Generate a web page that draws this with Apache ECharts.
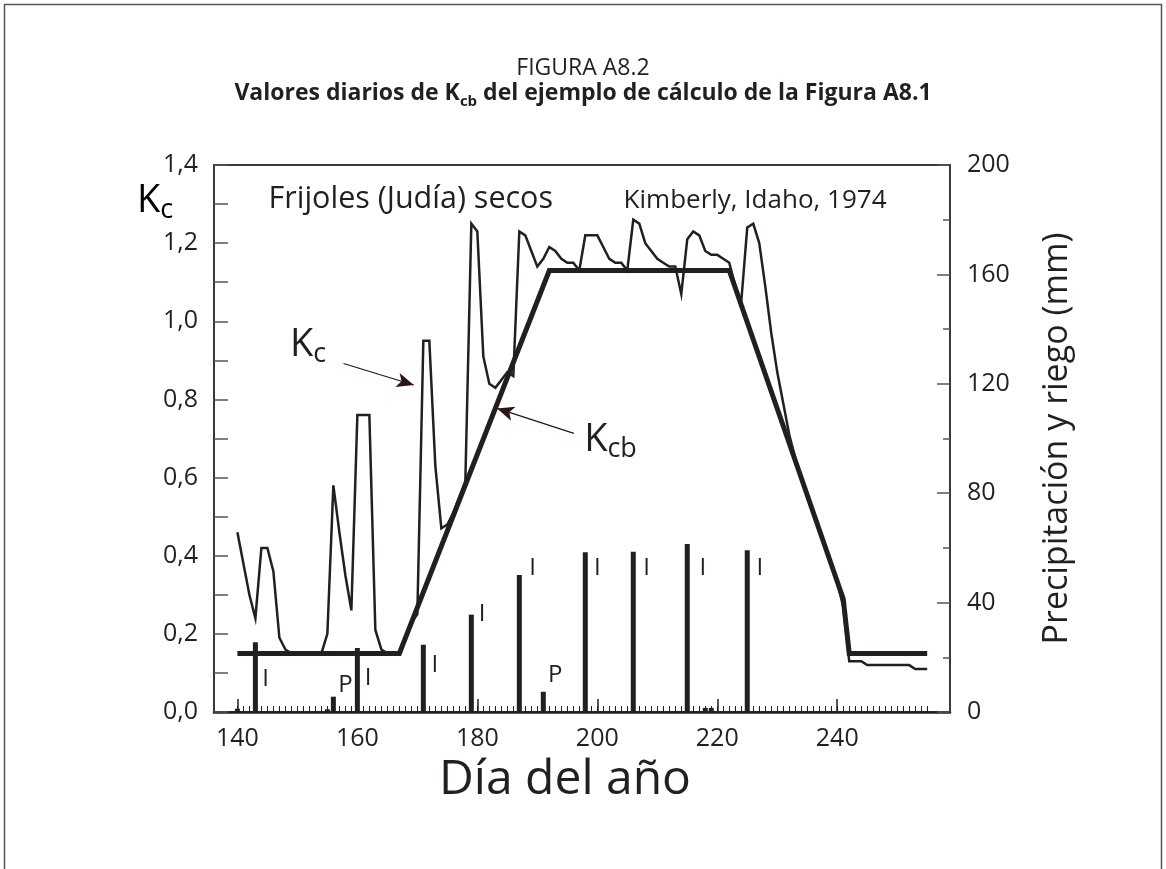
<!DOCTYPE html>
<html>
<head>
<meta charset="utf-8">
<script src="https://cdn.jsdelivr.net/npm/echarts@6/dist/echarts.min.js"></script>
<style>
  html, body { margin: 0; padding: 0; background: #ffffff; }
  #chart { width: 1166px; height: 869px; }
</style>
</head>
<body>
<div id="chart"></div>
<script>
const FONT = '"Open Sans", "Noto Sans", sans-serif';
const INK = '#231f20';
const AXIS = '#3a3a3a';

// Daily Kc, one value per day starting at firstDay
const firstDay = 140;
const kcDaily = [
  0.46, 0.38, 0.30, 0.24, 0.42, 0.42, 0.36, 0.19, 0.16, 0.15,   // 140-149
  0.15, 0.15, 0.15, 0.15, 0.15, 0.20, 0.58, 0.46, 0.35, 0.26,   // 150-159
  0.76, 0.76, 0.76, 0.21, 0.16, 0.15, 0.15, 0.15, 0.19, 0.23,   // 160-169
  0.25, 0.95, 0.95, 0.63, 0.47, 0.48, 0.51, 0.55, 0.59, 1.25,   // 170-179
  1.23, 0.91, 0.84, 0.83, 0.85, 0.87, 0.86, 1.23, 1.22, 1.18,   // 180-189
  1.14, 1.16, 1.19, 1.18, 1.16, 1.15, 1.15, 1.13, 1.22, 1.22,   // 190-199
  1.22, 1.19, 1.16, 1.15, 1.15, 1.13, 1.26, 1.25, 1.20, 1.18,   // 200-209
  1.16, 1.15, 1.14, 1.14, 1.07, 1.21, 1.23, 1.22, 1.18, 1.17,   // 210-219
  1.17, 1.16, 1.15, 1.09, 1.05, 1.24, 1.25, 1.20, 1.09, 0.97,   // 220-229
  0.87, 0.79, 0.71, 0.65, 0.60, 0.55, 0.51, 0.46, 0.42, 0.38,   // 230-239
  0.33, 0.27, 0.13, 0.13, 0.13, 0.12, 0.12, 0.12, 0.12, 0.12,   // 240-249
  0.12, 0.12, 0.12, 0.11, 0.11, 0.11                            // 250-255
];

// Basal crop coefficient Kcb (break points of the stage curve)
const kcbDays   = [140, 167, 192, 222, 241, 242, 255];
const kcbValues = [0.15, 0.15, 1.13, 1.13, 0.29, 0.15, 0.15];

// Precipitation (P) and irrigation (I) events, mm
const waterDays = [140, 143, 155, 156, 160, 171, 179, 187, 191, 198, 206, 215, 218, 219, 225];
const waterMm   = [1.2, 25.5, 1.0, 5.6, 23.4, 24.6, 35.6, 50.1, 7.4, 58.4, 58.6, 61.4, 1.5, 1.5, 59.1];

// Axis tick marks / labels
const dayLabels = [140, 160, 180, 200, 220, 240];
const lastTickDay = 255;
const kcLabels = [0, 0.2, 0.4, 0.6, 0.8, 1.0, 1.2, 1.4];

// Event letters next to the bars: [day, mm, letter]
const eventNotes = [
  [144.7, 12.1, 'I'], [158.0, 9.7, 'P'], [161.8, 12.3, 'I'], [172.9, 17.2, 'I'],
  [180.8, 35.7, 'I'], [189.2, 52.5, 'I'], [193.0, 13.5, 'P'], [200.0, 52.5, 'I'],
  [208.2, 52.5, 'I'], [217.6, 52.5, 'I'], [227.1, 52.5, 'I']
];

// Text inside the plot: [day, Kc, text, style key]
const plotNotes = [
  [168.9, 1.313, 'Frijoles (Judía) secos', 'crop'],
  [226.3, 1.310, 'Kimberly, Idaho, 1974', 'site'],
  [151.8, 0.947, '{k|K}{ks|c}', 'plain'],
  [202.2, 0.704, '{k|K}{ks|cb}', 'plain']
];

// Leader arrows from the curve labels: [fromDay, fromKc, toDay, toKc]
const arrows = [
  [157.7, 0.892, 169.4, 0.837],
  [196.1, 0.713, 183.3, 0.777]
];

const kcSeries = kcDaily.map((v, i) => [firstDay + i, v]);
const kcbSeries = kcbDays.map((d, i) => [d, kcbValues[i]]);
const waterSeries = waterDays.map((d, i) => [d, waterMm[i]]);
const dayTicks = [];
for (let d = dayLabels[0]; d <= lastTickDay; d++) dayTicks.push(d);

const richText = {
  k:  { fontFamily: FONT, fontSize: 38, color: INK, verticalAlign: 'bottom', lineHeight: 44 },
  ks: { fontFamily: FONT, fontSize: 27, color: INK, verticalAlign: 'bottom', lineHeight: 44, padding: [0, 0, -4, 0] }
};
const noteStyles = {
  crop: { fontSize: 30.5 },
  site: { fontSize: 26 },
  plain: {}
};

const chart = echarts.init(document.getElementById('chart'), null, { renderer: 'canvas' });

const xRange = { min: 136.1, max: 258.8 };

chart.setOption({
  animation: false,
  backgroundColor: '#ffffff',
  textStyle: { fontFamily: FONT, color: INK },
  title: [
    {
      text: 'FIGURA A8.2',
      left: 'center', top: 52,
      textStyle: { fontFamily: FONT, fontSize: 23, fontWeight: 'normal', color: INK }
    },
    {
      text: 'Valores diarios de K{s|cb} del ejemplo de cálculo de la Figura A8.1',
      left: 'center', top: 77,
      textStyle: {
        fontFamily: FONT, fontSize: 23, fontWeight: 'bold', color: INK,
        rich: {
          s: { fontFamily: FONT, fontSize: 15, fontWeight: 'bold', color: INK, verticalAlign: 'bottom', padding: [0, 0, -4, 0] }
        }
      }
    }
  ],
  grid: {
    left: 214, right: 216, top: 165, bottom: 157,
    show: true, borderColor: AXIS, borderWidth: 2, backgroundColor: 'transparent'
  },
  xAxis: [
    {
      type: 'value', position: 'bottom', min: xRange.min, max: xRange.max,
      axisLine: { show: true, onZero: false, lineStyle: { color: INK, width: 2.5 } },
      axisTick: { show: true, inside: true, length: 13, customValues: dayLabels, lineStyle: { color: INK, width: 1.5 } },
      axisLabel: { customValues: dayLabels, fontFamily: FONT, fontSize: 25, color: INK, margin: 14 },
      splitLine: { show: false },
      name: 'Día del año', nameLocation: 'middle', nameGap: 37,
      nameTextStyle: { fontFamily: FONT, fontSize: 48, color: INK, padding: [0, 34, 0, 0] }
    },
    {
      type: 'value', position: 'bottom', min: xRange.min, max: xRange.max,
      axisLine: { show: false },
      axisTick: { show: true, inside: true, length: 6, customValues: dayTicks, lineStyle: { color: INK, width: 1 } },
      axisLabel: { show: false },
      splitLine: { show: false }
    }
  ],
  yAxis: [
    {
      type: 'value', position: 'left', min: 0, max: 1.4, interval: 0.1,
      axisLine: { show: true, onZero: false, lineStyle: { color: AXIS, width: 2 } },
      axisTick: { show: true, inside: true, length: 14, lineStyle: { color: '#555555', width: 1.5 } },
      axisLabel: {
        customValues: kcLabels, fontFamily: FONT, fontSize: 25, color: INK, margin: 16,
        formatter: v => v.toFixed(1).replace('.', ',')
      },
      splitLine: { show: false }
    },
    {
      type: 'value', position: 'right', min: 0, max: 200, interval: 40,
      axisLine: { show: true, onZero: false, lineStyle: { color: AXIS, width: 2 } },
      axisTick: { show: true, inside: true, length: 13, lineStyle: { color: '#555555', width: 1.5 } },
      minorTick: { show: true, splitNumber: 2, length: 7, lineStyle: { color: '#555555', width: 1.5 } },
      axisLabel: { fontFamily: FONT, fontSize: 25, color: INK, margin: 17 },
      splitLine: { show: false }, minorSplitLine: { show: false },
      name: 'Precipitación y riego (mm)', nameLocation: 'middle', nameRotate: 90, nameGap: 90,
      nameTextStyle: { fontFamily: FONT, fontSize: 34, color: INK }
    }
  ],
  series: [
    {
      name: 'Agua', type: 'bar', xAxisIndex: 0, yAxisIndex: 1,
      data: waterSeries, barWidth: 5,
      itemStyle: { color: INK }, silent: true, z: 3
    },
    {
      name: 'Kcb', type: 'line', xAxisIndex: 0, yAxisIndex: 0,
      data: kcbSeries, symbol: 'none', silent: true,
      lineStyle: { color: INK, width: 5, join: 'miter' }, z: 4
    },
    {
      name: 'Kc', type: 'line', xAxisIndex: 0, yAxisIndex: 0,
      data: kcSeries, symbol: 'none', silent: true,
      lineStyle: { color: INK, width: 2.5, join: 'miter' }, z: 5,
      markLine: {
        silent: true, symbol: ['none', 'arrow'], symbolSize: [11, 17], precision: 3,
        label: { show: false },
        lineStyle: { color: '#2a1414', width: 1.2, type: 'solid' },
        emphasis: { disabled: true },
        data: arrows.map(a => [{ coord: [a[0], a[1]] }, { coord: [a[2], a[3]] }])
      }
    },
    {
      name: 'Eventos', type: 'scatter', xAxisIndex: 0, yAxisIndex: 1,
      data: eventNotes, symbolSize: 0, silent: true, clip: false, z: 6,
      itemStyle: { color: INK, opacity: 1 },
      label: {
        show: true, position: 'inside', formatter: p => p.data[2],
        fontFamily: FONT, fontSize: 24, color: INK, textBorderWidth: 0
      }
    },
    {
      name: 'Notas', type: 'scatter', xAxisIndex: 0, yAxisIndex: 0,
      data: plotNotes.map(n => ({
        value: [n[0], n[1]],
        label: Object.assign({ formatter: n[2] }, noteStyles[n[3]])
      })),
      symbolSize: 0, silent: true, clip: false, z: 6,
      itemStyle: { color: INK, opacity: 1 },
      label: {
        show: true, position: 'inside', fontFamily: FONT, color: INK, textBorderWidth: 0, rich: richText
      }
    }
  ],
  graphic: [
    {
      type: 'rect', silent: true, z: -1,
      shape: { x: 4.5, y: 4.5, width: 1157, height: 900 },
      style: { fill: 'none', stroke: '#555555', lineWidth: 1.5 }
    },
    {
      type: 'text', left: 137, top: 182, silent: true,
      style: {
        text: '{k|K}{ks|c}', rich: richText
      }
    }
  ]
});
</script>
</body>
</html>
